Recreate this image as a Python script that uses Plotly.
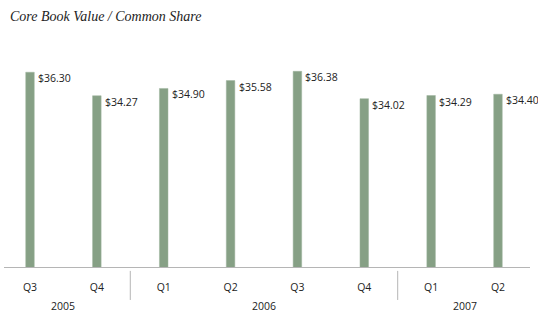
import plotly.graph_objects as go

quarters = ["Q3", "Q4", "Q1", "Q2", "Q3", "Q4", "Q1", "Q2"]
values = [36.30, 34.27, 34.90, 35.58, 36.38, 34.02, 34.29, 34.40]
labels = ["$36.30", "$34.27", "$34.90", "$35.58", "$36.38", "$34.02", "$34.29", "$34.40"]
years = ["2005", "2006", "2007"]
year_centers = [0.5, 3.5, 6.5]
separators = [1.5, 5.5]

x = list(range(len(values)))
bar_color = "#86a085"
label_font = dict(family="Open Sans, Noto Sans, sans-serif", size=10.5, color="#222222")

fig = go.Figure()
fig.add_trace(go.Bar(
    x=x, y=values, width=0.128,
    marker=dict(color=bar_color, line=dict(color="#9fb59e", width=0.5)),
    hoverinfo="skip",
))

for xi, v, t in zip(x, values, labels):
    fig.add_annotation(x=xi, y=v, text=t, showarrow=False, xanchor="left", yanchor="middle",
                       xshift=6, yshift=-6, font=label_font)

for yc, yr in zip(year_centers, years):
    fig.add_annotation(x=yc, y=0, xref="x", yref="paper", text=yr, showarrow=False,
                       xanchor="center", yanchor="middle", yshift=-39, font=label_font)

for s in separators:
    fig.add_shape(type="line", x0=s, x1=s, xref="x", y0=-0.018, y1=-0.152, yref="paper",
                  line=dict(color="#b5b5b5", width=1), layer="above")

fig.add_annotation(x=0, y=1, xref="paper", yref="paper", text="<i>Core Book Value / Common Share</i>",
                   showarrow=False, xanchor="left", yanchor="middle", xshift=4, yshift=34,
                   font=dict(family="Liberation Serif, Times New Roman, serif", size=14, color="#222222"))

fig.update_layout(
    width=538, height=313,
    margin=dict(l=4, r=8, t=50, b=46),
    plot_bgcolor="white", paper_bgcolor="white",
    showlegend=False,
    xaxis=dict(range=[-0.389, 7.479], tickvals=x, ticktext=quarters, showgrid=False,
               zeroline=False, showline=True, linecolor="#b5b5b5", linewidth=1,
               ticks="", tickfont=label_font, ticklabelstandoff=10),
    yaxis=dict(range=[19.49, 38.22], visible=False, showgrid=False, zeroline=False),
)

fig.write_html("out.html")
